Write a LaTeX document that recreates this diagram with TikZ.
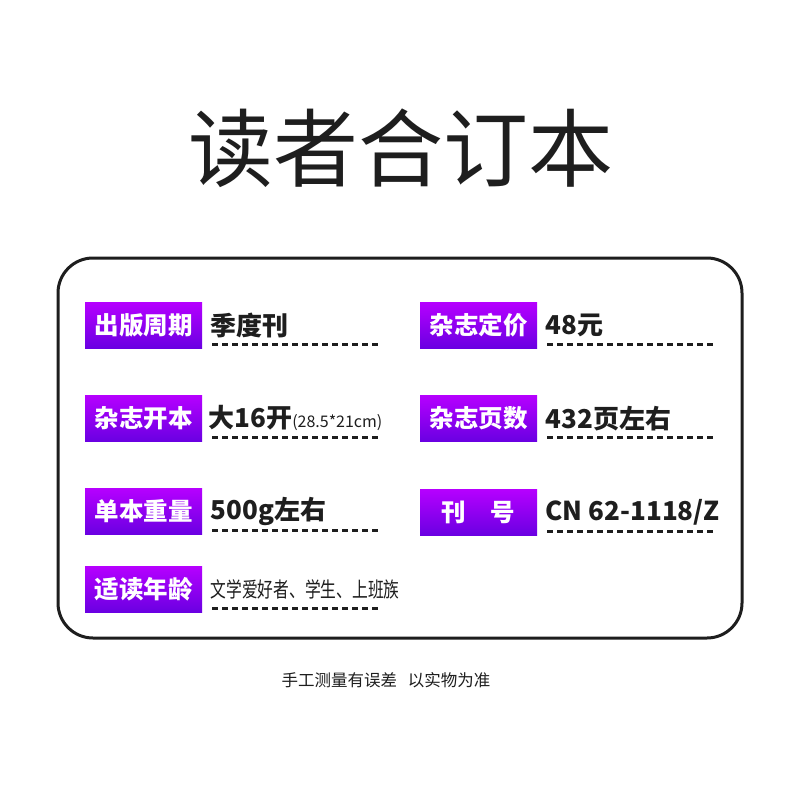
\documentclass[tikz,border=0pt]{standalone}
\usepackage{fontspec}
\setmainfont{Noto Sans CJK SC}
\usetikzlibrary{positioning}
\definecolor{topviolet}{RGB}{182,0,255}
\definecolor{botviolet}{RGB}{106,0,226}
\definecolor{ink}{RGB}{30,30,30}

\begin{document}
\begin{tikzpicture}[x=1pt,y=-1pt,
    lab/.style={anchor=north west, minimum width=117pt, minimum height=46pt, inner sep=0pt,
      top color=topviolet, bottom color=botviolet, text=white,
      font=\fontsize{24.5}{27}\selectfont\bfseries},
    val/.style={inner sep=0pt, text=ink, font=\fontsize{26}{30}\selectfont\bfseries},
    dashline/.style={dash pattern=on 6pt off 4pt, line width=2.5pt, ink}]
    \fill[white] (0,0) rectangle (800,800);

    \node[text=ink, font=\fontsize{85}{90}\selectfont] (title) at (401,148) {读者合订本};
    \draw[ink, line width=3pt, rounded corners=35pt] (58,258) rectangle (742,638);

    \node[lab] (l_1) at (85,302) {出版周期};
    \node[lab] (l_2) at (85,395) {杂志开本};
    \node[lab] (l_3) at (85,488) {单本重量};
    \node[lab] (l_4) at (85,566) {适读年龄};
    \node[lab] (r_1) at (420,302) {杂志定价};
    \node[lab] (r_2) at (420,395) {杂志页数};
    \node[lab] (r_3) at (420,489) {刊\hspace{1em}号};

    \node[val, anchor=west] [right=8pt of l_1] (v_1) {季度刊};
    \node[val, anchor=west] [right=6pt of l_2] (v_2) {大16开{\fontsize{16}{18}\selectfont\mdseries(28.5*21cm)}};
    \node[val, anchor=west] [right=8pt of l_3] (v_3) {500g左右};
    \node[val, anchor=west, font=\fontsize{21}{24}\selectfont] [right=8pt of l_4] (v_4) {\scalebox{0.75}[1]{文学爱好者、学生、上班族}};
    \node[val, anchor=west] [right=8pt of r_1] (w_1) {48元};
    \node[val, anchor=west] [right=8pt of r_2] (w_2) {432页左右};
    \node[val, anchor=west] [right=8pt of r_3] (w_3) {CN 62-1118/Z};

    \foreach \n in {l_1,l_2,l_3,l_4,r_1,r_2,r_3}
        \draw[dashline] (\n.south east) ++(10,-4) -- ++(168,0);

    \node[text=ink, font=\fontsize{16.5}{18}\selectfont] (note) at (386,680) {手工测量有误差\hspace{11pt}以实物为准};
\end{tikzpicture}
\end{document}
